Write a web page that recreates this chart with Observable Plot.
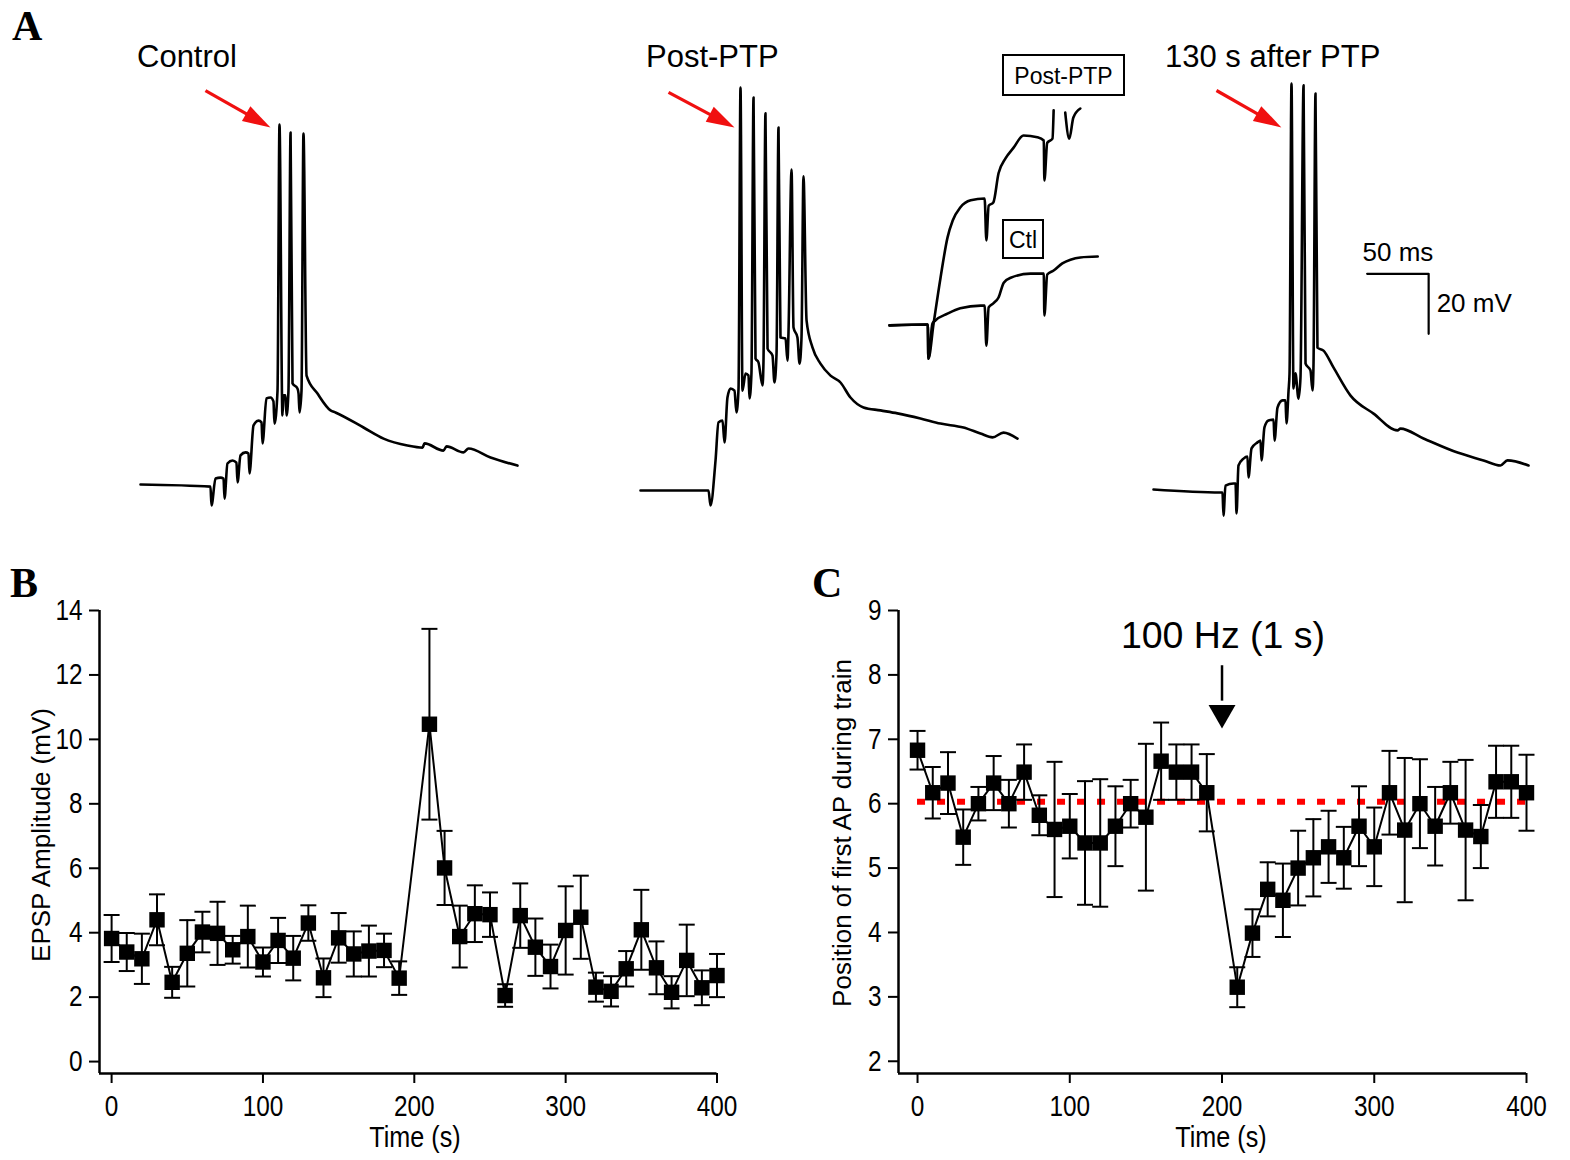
<!DOCTYPE html>
<html><head><meta charset="utf-8">
<script src="https://cdn.jsdelivr.net/npm/d3@7"></script>
<script src="https://cdn.jsdelivr.net/npm/@observablehq/plot@0.6"></script>
<style>
body{margin:0;background:#fff;}
#fig{position:relative;width:1570px;height:1160px;overflow:hidden;background:#fff;}
</style></head>
<body><div id="fig"></div>
<script>
// ---------------- DATA ----------------
// Panel B / C : time points (s)
const timeB = [0,10,20,30,40,50,60,70,80,90,100,110,120,130,140,150,160,170,180,190,210,220,230,240,250,260,270,280,290,300,310,320,330,340,350,360,370,380,390,400];
const epspMean = [3.82,3.40,3.19,4.40,2.46,3.36,4.02,3.98,3.47,3.88,3.09,3.76,3.21,4.30,2.60,3.84,3.34,3.43,3.45,2.59,10.47,6.01,3.88,4.59,4.56,2.05,4.53,3.55,2.95,4.07,4.48,2.31,2.18,2.88,4.09,2.91,2.15,3.14,2.29,2.67];
const epspSem = [0.73,0.59,0.78,0.79,0.48,1.03,0.63,0.98,0.43,0.96,0.45,0.70,0.69,0.55,0.60,0.77,0.70,0.79,0.52,0.52,2.96,1.15,0.96,0.88,0.69,0.35,1.00,0.89,0.68,1.37,1.29,0.45,0.47,0.55,1.24,0.82,0.50,1.11,0.54,0.67];
const timeC = timeB;
const firstApMean = [6.83,6.17,6.32,5.48,6.00,6.32,6.00,6.49,5.82,5.60,5.65,5.39,5.39,5.65,6.00,5.79,6.66,6.49,6.49,6.17,3.15,3.99,4.67,4.50,5.00,5.16,5.33,5.16,5.65,5.33,6.17,5.59,6.00,5.65,6.17,5.59,5.49,6.34,6.34,6.17];
const firstApSem = [0.30,0.40,0.48,0.43,0.26,0.42,0.37,0.43,0.31,1.05,0.50,0.96,0.99,0.62,0.37,1.14,0.60,0.43,0.43,0.60,0.31,0.37,0.42,0.57,0.58,0.60,0.56,0.48,0.62,0.61,0.65,1.12,0.69,0.61,0.48,1.09,0.49,0.56,0.56,0.59];
const firstApBaseline = 6.03;
const stimTime = 200;
const xTicks = [0,100,200,300,400];
const yTicksB = [0,2,4,6,8,10,12,14];
const yTicksC = [2,3,4,5,6,7,8,9];

// Panel A : membrane potential traces (ms, mV)
const controlT = [0,56.9,57.7,61,65,67.5,68.3,70.7,74.8,78,78.9,81.3,85.4,87.8,88.6,91.9,95.9,98.4,99.2,102.4,105.7,108.1,108.9,111.4,113,115.4,116.3,117.9,118.7,120.3,122,123.6,127.6,128.5,129.3,130.9,132.5,135,143.9,154.5,158.5,181.3,197.6,217,229.3,230.9,246.3,248.8,262.6,266.7,284.6,306.5];
const controlV = [-70,-70.7,-77,-68,-67.7,-68,-74.7,-63,-62,-62.7,-69.3,-60.3,-59.3,-59.7,-66.3,-50.3,-48.7,-49.3,-56.3,-41.3,-41,-42.3,-49.7,-38.7,50,-47,-40.3,-40.3,-47,-38.7,47.3,-36.3,-38,-39.7,-46,-38.7,47,-33.7,-39.7,-45.3,-46,-51,-54.7,-57,-57.7,-56.3,-58.7,-57.3,-59.3,-58,-61,-63.7];
const postT = [0,55.3,56.9,61,63.4,66.7,68.3,70.7,73.2,76.4,78,79.7,81.3,82.9,85.4,87.8,88.6,90.2,91.9,93.5,95.9,99.2,100,101.6,103.3,107.3,108.9,110.6,112.2,113.8,117.9,119.5,120.3,122.8,124.4,127.6,129.3,130.9,132.5,135,139.8,146.3,154.5,162.6,170.7,181.3,195.1,208.9,227.6,243.9,262.6,276.4,286.2,295.1,306.5];
const postV = [-70,-70,-75,-60,-47.3,-46.7,-54,-39,-36,-36.7,-44,-36,64.3,-36.7,-31,-31.7,-39.3,-31,61,-26,-27.3,-35,-26.7,55.7,-22.7,-25,-34,-24.3,51,-19,-19.3,-26.7,-17.7,37,-15.7,-19,-27.7,-19,34.7,-13.3,-22.3,-27.7,-31.7,-34,-39,-42.3,-43.3,-44.3,-46,-47.7,-49,-51,-52.3,-50.7,-52.7];
const after130T = [0,54.5,56.1,56.9,58.5,65,66.7,67.5,69.1,73.2,76.4,77.2,79.7,84.6,87,87.8,90.2,93.5,97.6,98.4,100.8,104.9,107.3,108.1,109.8,110.6,112.2,113.8,115.4,117.9,119.5,122,123.6,127.6,129.3,130.1,131.7,133.3,138.2,146.3,160.2,178.9,198.4,200.8,219.5,247.2,268.3,282.1,287.8,304.9];
const after130V = [-70,-71,-71,-78.7,-68.7,-68,-68,-78,-62,-59.7,-59,-66,-56.3,-54.3,-53.7,-60.3,-49.3,-47,-46.7,-53.7,-42.7,-40.3,-40.3,-48,-37,-31.3,65.3,-36.3,-31.3,-39.7,-32.7,64.7,-28,-30.3,-37,-28,62,-22.7,-23.7,-29.3,-38.7,-44.7,-50.3,-49.7,-53,-57.7,-60.3,-62,-60.3,-62];
// inset (expanded time base)
const insetCtlT = [0,6.6,6.7,7.4,7.9,10,12.2,15.7,16.4,16.7,17.1,17.9,18.8,19.7,20.9,24.3,26.6,26.7,27.2,28.3,29.8,31.2,32.9,35.9];
const insetCtlV = [-70.2,-70,-77.6,-69.8,-69.1,-67.6,-66.4,-65.8,-65.8,-74.7,-66.2,-65.3,-64,-60.7,-59.6,-58.7,-58.7,-68,-58.9,-58,-56.4,-55.6,-55.1,-54.9];
const insetPostT = [0,6.6,6.7,7.6,8.8,10,10.9,12.2,14,16.4,16.7,17.1,17.9,18.8,20,21.4,23.1,25.5,26.6,26.7,27.2,28.1,28.3];
const insetPostV = [-70.2,-70,-77.6,-69.8,-59.6,-50.7,-46.9,-44,-42.4,-42,-51.3,-43.6,-42.9,-36.4,-33.1,-30.7,-28,-28.4,-29.1,-38,-29.6,-28.7,-22.4];
const insetPostTailT = [30.3,31,31.7,32.9];
const insetPostTailV = [-22.9,-28.7,-24,-22];
// red arrows (start / tip, ms & mV of each trace)
const arrowControl = {t1:52.8, v1:61.3, t2:105.7, v2:49};
const arrowPost = {t1:22.8, v1:62.7, t2:76.4, v2:51};
const arrowAfter = {t1:51.2, v1:63, t2:104, v2:50.7};
const scaleBar = {t:173.7, v:1.9, ms:50, mv:20};

// ---------------- RENDER ----------------
const SANS = "'Liberation Sans', Arial, Helvetica, sans-serif";
const SERIF = "'Liberation Serif', 'Times New Roman', serif";
const NARROW = 0.84;
const fig = document.getElementById("fig");
const toPts = (T, V) => T.map((t, i) => ({t, v: V[i]}));

function place(svg, left, top) {
  svg.style.position = "absolute";
  svg.style.left = left + "px";
  svg.style.top = top + "px";
  svg.style.maxWidth = "none";
  fig.appendChild(svg);
}

const redHead = {draw(ctx) { const L = 28, W = 8.5; ctx.moveTo(0, 0); ctx.lineTo(-L, -W); ctx.lineTo(-L, W); ctx.closePath(); }};

function tracePanel({left, top, width, height, x0, y0, pxMs = 1.23, pxMv = 3, traces, arrow, extra = []}) {
  const xd = [(left - x0) / pxMs, (left + width - x0) / pxMs];
  const yd = [-70 + (y0 - (top + height)) / pxMv, -70 + (y0 - top) / pxMv];
  const marks = traces.map(d => Plot.line(d, {x: "t", y: "v", stroke: "black", strokeWidth: 2.6, strokeLinejoin: "round", curve: "monotone-x"}));
  if (arrow) {
    const dx = (arrow.t2 - arrow.t1) * pxMs, dy = -(arrow.v2 - arrow.v1) * pxMv;
    const len = Math.hypot(dx, dy), ang = Math.atan2(dy, dx) * 180 / Math.PI;
    const back = 20;
    const tEnd = arrow.t2 - back * dx / len / pxMs, vEnd = arrow.v2 + back * dy / len / pxMv;
    marks.push(Plot.link([arrow], {x1: "t1", y1: "v1", x2: () => tEnd, y2: () => vEnd, stroke: "#f01010", strokeWidth: 3.2}));
    marks.push(Plot.dot([arrow], {x: "t2", y: "v2", symbol: redHead, r: 5, fill: "#f01010", stroke: "none", rotate: ang}));
  }
  marks.push(...extra);
  const svg = Plot.plot({
    width, height, margin: 0,
    x: {domain: xd, axis: null}, y: {domain: yd, axis: null},
    style: {background: "transparent", overflow: "visible", fontFamily: SANS, fontSize: "26px", color: "black"},
    marks
  });
  place(svg, left, top);
}

tracePanel({left: 130, top: 60, width: 400, height: 460, x0: 140, y0: 484,
  traces: [toPts(controlT, controlV)], arrow: arrowControl});
tracePanel({left: 630, top: 60, width: 400, height: 460, x0: 640, y0: 490,
  traces: [toPts(postT, postV)], arrow: arrowPost});
tracePanel({left: 880, top: 95, width: 240, height: 285, x0: 889, y0: 324, pxMs: 5.8, pxMv: 4.5,
  traces: [toPts(insetCtlT, insetCtlV), toPts(insetPostT, insetPostV), toPts(insetPostTailT, insetPostTailV)]});
tracePanel({left: 1140, top: 60, width: 420, height: 460, x0: 1153, y0: 489,
  traces: [toPts(after130T, after130V)], arrow: arrowAfter,
  extra: [
    Plot.line([{t: scaleBar.t, v: scaleBar.v}, {t: scaleBar.t + scaleBar.ms, v: scaleBar.v}, {t: scaleBar.t + scaleBar.ms, v: scaleBar.v - scaleBar.mv}],
      {x: "t", y: "v", stroke: "black", strokeWidth: 2.2}),
    Plot.text([scaleBar], {x: d => d.t + d.ms / 2, y: "v", text: d => `${d.ms} ms`, dy: -21, fontSize: 26}),
    Plot.text([scaleBar], {x: d => d.t + d.ms, y: d => d.v - d.mv / 2, text: d => `${d.mv} mV`, dx: 8, textAnchor: "start", fontSize: 26})
  ]});

// error-bar cap symbol
const capSym = {draw(ctx) { ctx.moveTo(-8, 0); ctx.lineTo(8, 0); }};

function dataPanel({left, width, ml, mr, xDomain, yDomain, yTicks, rows, extra = []}) {
  const top = 580, height = 580;
  const svg = Plot.plot({
    width, height, marginLeft: ml, marginRight: mr, marginTop: 30, marginBottom: 87,
    x: {domain: xDomain}, y: {domain: yDomain},
    style: {background: "transparent", overflow: "visible", fontFamily: SANS, fontSize: "29px", color: "black"},
    marks: [
      Plot.axisY({ticks: yTicks, tickSize: 10, tickPadding: 7, strokeWidth: 2, label: null}),
      Plot.axisX({ticks: xTicks, tickSize: 10, tickPadding: 12, strokeWidth: 2, label: null}),
      Plot.ruleX([xDomain[0]], {strokeWidth: 2.5}),
      Plot.ruleY([yDomain[0]], {strokeWidth: 2.5}),
      ...extra,
      Plot.ruleX(rows, {x: "t", y1: d => d.mean - d.sem, y2: d => d.mean + d.sem, stroke: "black", strokeWidth: 2}),
      Plot.dot(rows, {x: "t", y: d => d.mean + d.sem, symbol: capSym, fill: "none", stroke: "black", strokeWidth: 2}),
      Plot.dot(rows, {x: "t", y: d => d.mean - d.sem, symbol: capSym, fill: "none", stroke: "black", strokeWidth: 2}),
      Plot.line(rows, {x: "t", y: "mean", stroke: "black", strokeWidth: 2}),
      Plot.dot(rows, {x: "t", y: "mean", symbol: "square", r: 8.7, fill: "black", stroke: "none"})
    ]
  });
  // narrow the tick labels (condensed sans look of the original)
  svg.querySelectorAll('g[aria-label$="tick label"] text').forEach(t => {
    t.setAttribute("transform", (t.getAttribute("transform") || "") + ` scale(${NARROW},1)`);
  });
  place(svg, left, top);
}

const rowsB = timeB.map((t, i) => ({t, mean: epspMean[i], sem: epspSem[i]}));
const rowsC = timeC.map((t, i) => ({t, mean: firstApMean[i], sem: firstApSem[i]}));

dataPanel({left: 0, width: 780, ml: 99, mr: 63.5, xDomain: [-8, 400], yDomain: [-0.37, 14], yTicks: yTicksB, rows: rowsB});
dataPanel({left: 790, width: 780, ml: 108, mr: 44, xDomain: [-12.5, 400], yDomain: [1.81, 9], yTicks: yTicksC, rows: rowsC,
  extra: [
    Plot.ruleY([firstApBaseline], {x1: xTicks[0], x2: xTicks[xTicks.length - 1], stroke: "#ff0000", strokeWidth: 6, strokeDasharray: "8,12"}),
    Plot.link([stimTime], {x1: d => d, x2: d => d, y1: 8.15, y2: 7.6, stroke: "black", strokeWidth: 2.5}),
    Plot.dot([stimTime], {x: d => d, y: 7.41, symbol: "triangle", rotate: 180, r: 10, fill: "black", stroke: "none"})
  ]});

// ---------------- TEXT OVERLAY ----------------
const ov = d3.select(fig).append("svg").attr("width", 1570).attr("height", 1160)
  .style("position", "absolute").style("left", 0).style("top", 0).style("pointer-events", "none");
const labels = [
  {text: "A", x: 12, y: 40, size: 42, family: SERIF, weight: "bold"},
  {text: "B", x: 10, y: 597, size: 42, family: SERIF, weight: "bold"},
  {text: "C", x: 812, y: 597, size: 42, family: SERIF, weight: "bold"},
  {text: "Control", x: 137, y: 67, size: 31},
  {text: "Post-PTP", x: 646, y: 67, size: 31},
  {text: "130 s after PTP", x: 1165, y: 67, size: 31},
  {text: "EPSP Amplitude (mV)", x: 50, y: 835, size: 26, anchor: "middle", rotate: -90},
  {text: "Position of first AP during train", x: 851, y: 833, size: 26, anchor: "middle", rotate: -90},
  {text: "Time (s)", x: 415, y: 1147, size: 30, anchor: "middle", sx: NARROW},
  {text: "Time (s)", x: 1221, y: 1147, size: 30, anchor: "middle", sx: NARROW},
  {text: "100 Hz (1 s)", x: 1223, y: 648, size: 37.5, anchor: "middle"},
  {text: "Post-PTP", x: 1063.5, y: 84, size: 23, anchor: "middle"},
  {text: "Ctl", x: 1023, y: 248, size: 23, anchor: "middle"}
];
ov.selectAll("rect").data([{x: 1003, y: 55, w: 121, h: 40}, {x: 1003, y: 220, w: 40, h: 38}]).join("rect")
  .attr("x", d => d.x).attr("y", d => d.y).attr("width", d => d.w).attr("height", d => d.h)
  .attr("fill", "white").attr("stroke", "black").attr("stroke-width", 2);
for (const L of labels) {
  const t = ov.append("text").attr("x", 0).attr("y", 0)
    .attr("text-anchor", L.anchor || "start").attr("font-size", L.size)
    .attr("font-family", L.family || SANS).attr("font-weight", L.weight || "normal").attr("fill", "black").text(L.text);
  t.attr("transform", `translate(${L.x},${L.y})` + (L.rotate ? ` rotate(${L.rotate})` : "") + (L.sx ? ` scale(${L.sx},1)` : ""));
}
</script>
</body></html>
